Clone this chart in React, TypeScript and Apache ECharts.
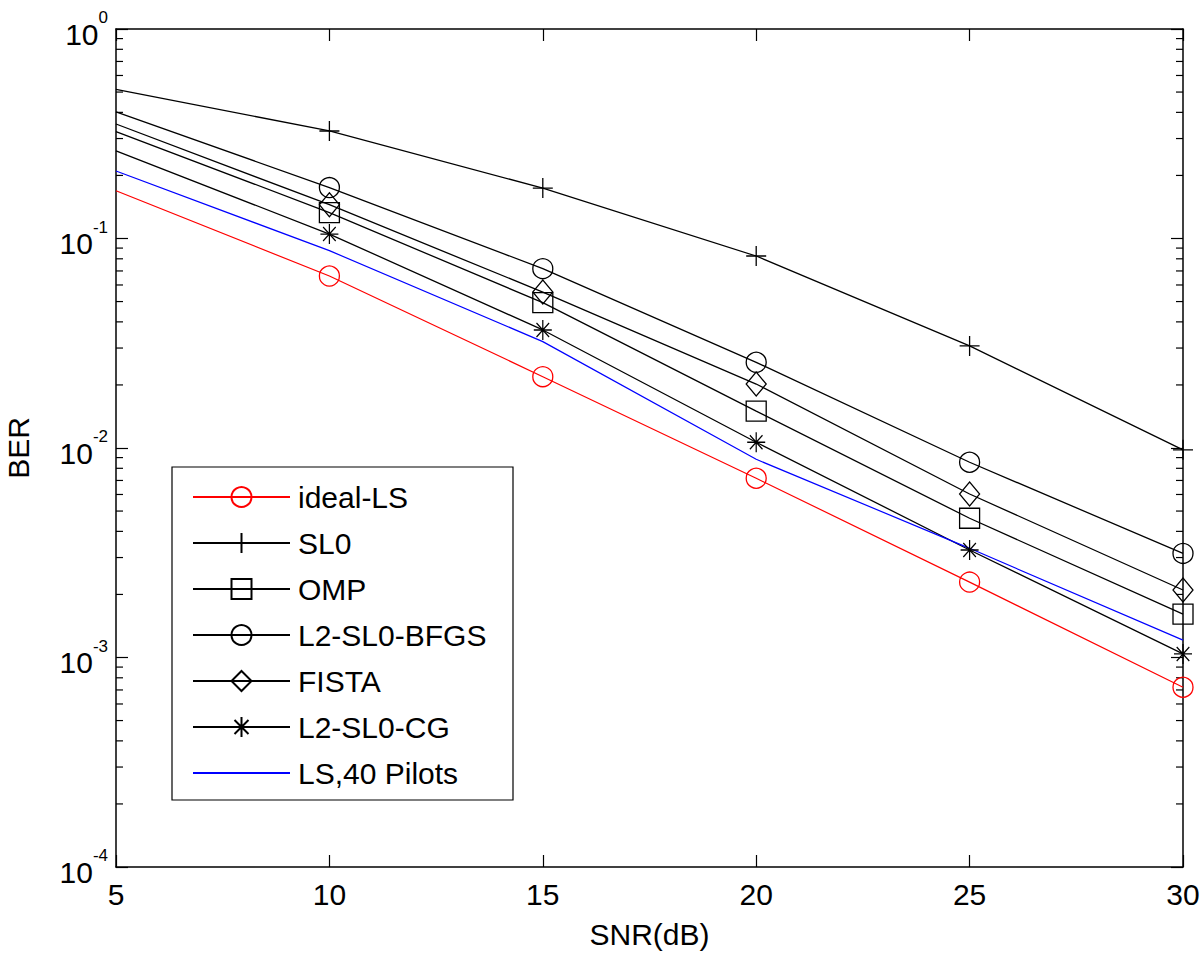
import React, { useEffect, useRef } from "react";
import * as echarts from "echarts";

const SNR = [5, 10, 15, 20, 25, 30];
const idealLS = [0.169, 0.0662, 0.0219, 0.00717, 0.00229, 0.000721];
const SL0 = [0.515, 0.326, 0.174, 0.0825, 0.0307, 0.0098];
const OMP = [0.324, 0.133, 0.0494, 0.015, 0.00462, 0.00161];
const BFGS = [0.402, 0.175, 0.0718, 0.02565, 0.00855, 0.00314];
const FISTA = [0.352, 0.145, 0.0555, 0.0202, 0.00603, 0.0021];
const CG = [0.262, 0.105, 0.0366, 0.01065, 0.00326, 0.00104];
const LS40 = [0.21, 0.0875, 0.0322, 0.00883, 0.00332, 0.00121];

const legendNames = ["ideal-LS", "SL0", "OMP", "L2-SL0-BFGS", "FISTA", "L2-SL0-CG", "LS,40 Pilots"];

const X_MIN = 5;
const X_MAX = 30;
const Y_MIN = 1e-4;
const Y_MAX = 1;

const minorTicks: number[] = [];
for (let d = -4; d < 0; d++) {
  for (let m = 2; m <= 9; m++) minorTicks.push(m * Math.pow(10, d));
}

const FONT = "Liberation Sans, Arial, Helvetica, sans-serif";
const FS = 30;
const PLUS = "path://M0,-10L0,10M-10,0L10,0";
const STAR = "path://M0,-10L0,10M-10,0L10,0M-7,-7L7,7M-7,7L7,-7";

function mk(name: string, vals: number[], color: string, symbol: string, size: any, width = 1.3) {
  return {
    type: "line",
    name,
    data: SNR.map((x, i) => (i === 0 ? { value: [x, vals[i]], symbol: "none" } : [x, vals[i]])),
    symbol,
    symbolSize: size,
    showSymbol: true,
    showAllSymbol: true,
    clip: false,
    silent: true,
    lineStyle: { color, width },
    itemStyle: { color: "transparent", borderColor: color, borderWidth: 1.3 },
    emphasis: { disabled: true },
    z: 3,
  };
}

export default function App() {
  const ref = useRef<HTMLDivElement>(null);
  useEffect(() => {
    if (!ref.current) return;
    const chart = echarts.init(ref.current, undefined, { renderer: "svg" });
    const axisLine = { show: true, lineStyle: { color: "#000", width: 1.5 } };
    const tick = { show: true, inside: true, length: 12, lineStyle: { color: "#000", width: 1.2 } };
    const option: any = {
      animation: false,
      backgroundColor: "#fff",
      textStyle: { fontFamily: FONT },
      grid: { left: 116, right: 17, top: 29, bottom: 88, containLabel: false, outerBoundsMode: "none" },
      legend: {
        data: legendNames,
        orient: "vertical",
        left: 172,
        top: 467,
        padding: [15, 20, 12, 20],
        itemWidth: 97,
        itemHeight: 25,
        itemGap: 16,
        backgroundColor: "#fff",
        borderColor: "#000",
        borderWidth: 1.2,
        borderRadius: 0,
        selectedMode: false,
        textStyle: { fontSize: FS, fontFamily: FONT, color: "#000", padding: [0, 0, 0, 3], width: 195, lineHeight: 30 },
        z: 10,
      },
      xAxis: [
        {
          type: "value",
          min: X_MIN,
          max: X_MAX,
          interval: 5,
          position: "bottom",
          name: "SNR(dB)",
          nameLocation: "middle",
          nameGap: 52,
          nameTextStyle: { fontSize: FS, fontFamily: FONT, color: "#000" },
          axisLine,
          axisTick: tick,
          axisLabel: { fontSize: FS, fontFamily: FONT, color: "#000", margin: 12 },
          splitLine: { show: false },
        },
        {
          type: "value",
          min: X_MIN,
          max: X_MAX,
          interval: 5,
          position: "top",
          axisLine,
          axisTick: tick,
          axisLabel: { show: false },
          splitLine: { show: false },
        },
      ],
      yAxis: [
        {
          type: "log",
          logBase: 10,
          min: Y_MIN,
          max: Y_MAX,
          position: "left",
          name: "BER",
          nameLocation: "middle",
          nameGap: 83,
          nameRotate: 90,
          nameTextStyle: { fontSize: FS, fontFamily: FONT, color: "#000" },
          axisLine,
          axisTick: tick,
          axisLabel: {
            margin: 8,
            color: "#000",
            formatter: (v: number) => `{b|10}{s|${Math.round(Math.log10(v))}}`,
            rich: {
              b: { fontSize: FS, fontFamily: FONT, color: "#000", lineHeight: 40, verticalAlign: "bottom" },
              s: { fontSize: 17, fontFamily: FONT, color: "#000", verticalAlign: "top" },
            },
          },
          splitLine: { show: false },
        },
        {
          type: "log",
          logBase: 10,
          min: Y_MIN,
          max: Y_MAX,
          position: "right",
          axisLine,
          axisTick: tick,
          axisLabel: { show: false },
          splitLine: { show: false },
        },
      ],
      series: [
        {
          type: "custom",
          name: "minorTicks",
          silent: true,
          clip: false,
          xAxisIndex: 0,
          yAxisIndex: 0,
          data: minorTicks.map((v) => [X_MIN, v]),
          renderItem: (_p: any, api: any) => {
            const v = api.value(1);
            const l = api.coord([X_MIN, v]);
            const r = api.coord([X_MAX, v]);
            return {
              type: "group",
              children: [
                { type: "line", shape: { x1: l[0], y1: l[1], x2: l[0] + 7, y2: l[1] }, style: { stroke: "#000", lineWidth: 1.2 } },
                { type: "line", shape: { x1: r[0] - 7, y1: r[1], x2: r[0], y2: r[1] }, style: { stroke: "#000", lineWidth: 1.2 } },
              ],
            };
          },
          z: 1,
        },
        mk("SL0", SL0, "#000", PLUS, 20),
        mk("L2-SL0-BFGS", BFGS, "#000", "circle", 20),
        mk("FISTA", FISTA, "#000", "diamond", [20, 24]),
        mk("OMP", OMP, "#000", "rect", 20),
        mk("L2-SL0-CG", CG, "#000", STAR, [18, 20]),
        {
          ...mk("LS,40 Pilots", LS40, "#0000ff", "circle", 0, 1.2),
          showSymbol: false,
          itemStyle: { color: "transparent", borderColor: "transparent", borderWidth: 0 },
        },
        mk("ideal-LS", idealLS, "#ff0000", "circle", 20, 1.2),
      ],
    };
    chart.setOption(option);
    return () => chart.dispose();
  }, []);
  return (
    <div
      ref={ref}
      style={{ position: "fixed", left: 0, top: 0, width: 1200, height: 955, background: "#fff" }}
    />
  );
}
